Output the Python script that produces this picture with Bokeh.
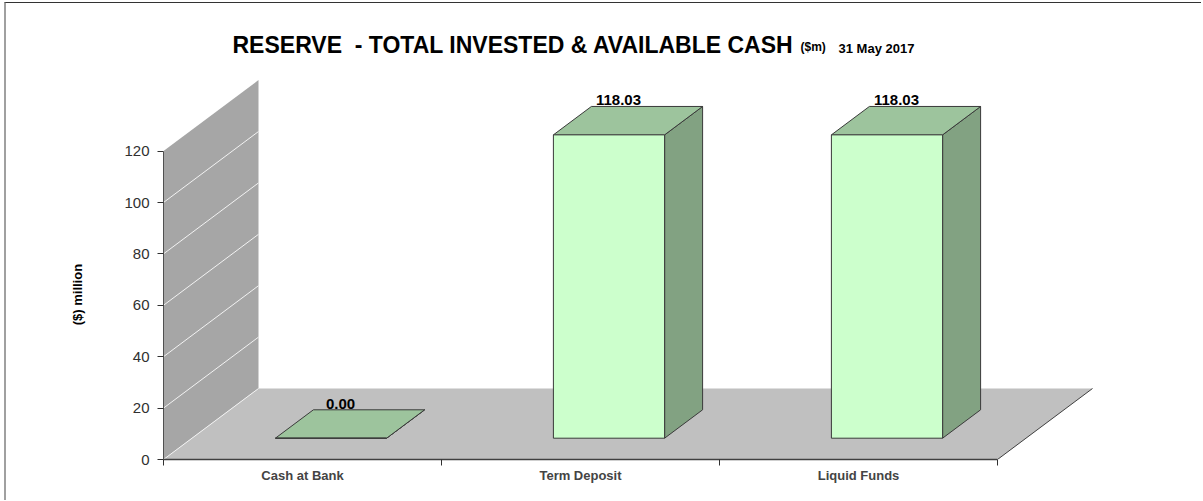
from bokeh.plotting import figure
from bokeh.models import Range1d, FixedTicker
from bokeh.core.properties import value
from bokeh.embed import file_html
from bokeh.resources import INLINE

# ---------------- data ----------------
categories = ["Cash at Bank", "Term Deposit", "Liquid Funds"]
amounts = [0.00, 118.03, 118.03]
amount_labels = ["0.00", "118.03", "118.03"]
y_ticks = [0, 20, 40, 60, 80, 100, 120]
title_main = "RESERVE \u00a0- TOTAL INVESTED & AVAILABLE CASH"
title_unit = "($m)"
title_date = "31 May 2017"
y_title = "($) million"

# ---------------- geometry ----------------
W, H = 1203, 501
OFF_X, OFF_Y = 6, 3            # css margin + border
FRAME_LEFT, FRAME_TOP, FRAME_BOTTOM = 163, 10, 459
PX_CAT = 278.0                 # pixels per category
PX_UNIT = 2.57                 # pixels per $m
DX = 95.0 / PX_CAT             # depth offset (x, in category units)
DY = 71.0 / PX_UNIT            # depth offset (y, in value units)
HALF_W = 0.2                   # half bar width
D0, D1 = 0.3, 0.7              # bar depth span
YMAX = 120
FONT = "Liberation Sans"

fig_w = W - OFF_X
fig_h = H - OFF_Y
mb_left = FRAME_LEFT - OFF_X
mb_top = FRAME_TOP - OFF_Y
mb_bottom = H - FRAME_BOTTOM
mb_right = 8
x_start = -0.5
x_end = x_start + (fig_w - mb_left - mb_right) / PX_CAT
y_end = (fig_h - mb_top - mb_bottom) / PX_UNIT


def proj(x, v, d):
    return x + d * DX, v + d * DY


def px_to_data(px, py):
    return x_start + (px - FRAME_LEFT) / PX_CAT, (FRAME_BOTTOM - py) / PX_UNIT


p = figure(width=fig_w, height=fig_h, output_backend="svg", toolbar_location=None,
           x_range=Range1d(x_start, x_end), y_range=Range1d(0, y_end),
           min_border_left=mb_left, min_border_right=mb_right,
           min_border_top=mb_top, min_border_bottom=mb_bottom,
           background_fill_color="white", border_fill_color="white",
           styles={"margin-left": "4px", "margin-top": "2px",
                   "border-top": "1px solid #333333",
                   "border-left": "2px solid #a0a0a0"})
p.grid.visible = False
p.outline_line_color = None

# ---------------- floor & wall ----------------
n = len(categories)
fl = [proj(x_start, 0, 0), proj(x_start + n, 0, 0), proj(x_start + n, 0, 1), proj(x_start, 0, 1)]
p.patch([a for a, b in fl], [b for a, b in fl], fill_color="#c0c0c0", line_color=None)
wl = [proj(x_start, 0, 0), proj(x_start, YMAX, 0), proj(x_start, YMAX, 1), proj(x_start, 0, 1)]
p.patch([a for a, b in wl], [b for a, b in wl], fill_color="#a6a6a6", line_color=None)

gx, gy = [], []
for t in y_ticks[:-1]:
    a = proj(x_start, t, 0)
    b = proj(x_start, t, 1)
    gx.append([a[0], b[0]])
    gy.append([a[1], b[1]])
p.multi_line(gx, gy, line_color="#f2f2f2", line_width=1)

re = [proj(x_start + n, 0, 0), proj(x_start + n, 0, 1)]
p.line([a for a, b in re], [b for a, b in re], line_color="#404040", line_width=1)

# ---------------- bars ----------------
side_xs, side_ys, top_xs, top_ys, front_xs, front_ys = [], [], [], [], [], []
for i, v in enumerate(amounts):
    l, r = i - HALF_W, i + HALF_W
    s = [proj(r, 0, D0), proj(r, v, D0), proj(r, v, D1), proj(r, 0, D1)]
    t = [proj(l, v, D0), proj(r, v, D0), proj(r, v, D1), proj(l, v, D1)]
    f = [proj(l, 0, D0), proj(r, 0, D0), proj(r, v, D0), proj(l, v, D0)]
    side_xs.append([a for a, b in s]); side_ys.append([b for a, b in s])
    top_xs.append([a for a, b in t]); top_ys.append([b for a, b in t])
    front_xs.append([a for a, b in f]); front_ys.append([b for a, b in f])

p.patches(side_xs, side_ys, fill_color="#82a282", line_color="#3a3a3a", line_width=1)
p.patches(top_xs, top_ys, fill_color="#9dc49d", line_color="#3a3a3a", line_width=1)
p.patches(front_xs, front_ys, fill_color="#ccffcc", line_color="#3a3a3a", line_width=1)

# value labels
lab_x = [i + 0.4 * DX for i in range(n)]
lab_y = [v + D1 * DY + 6 / PX_UNIT for v in amounts]
p.text(lab_x, lab_y, text=amount_labels, text_align="center", text_baseline="middle",
       text_font=value(FONT), text_font_style="bold", text_font_size="15px",
       text_color="black")

# ---------------- title ----------------
tx, ty = px_to_data(232, 44)
p.text([tx], [ty], text=[title_main], text_align="left", text_baseline="middle",
       text_font=value(FONT), text_font_style="bold", text_font_size="23px",
       text_color="black")
ux, uy = px_to_data(800, 46)
p.text([ux], [uy], text=[title_unit], text_align="left", text_baseline="middle",
       text_font=value(FONT), text_font_style="bold", text_font_size="12px",
       text_color="black")
dx_, dy_ = px_to_data(838, 48)
p.text([dx_], [dy_], text=[title_date], text_align="left", text_baseline="middle",
       text_font=value(FONT), text_font_style="bold", text_font_size="13px",
       text_color="black")

# ---------------- axes ----------------
ya = p.yaxis[0]
ya.ticker = FixedTicker(ticks=y_ticks)
ya.bounds = (0, YMAX)
ya.major_tick_out = 6
ya.major_tick_in = 0
ya.minor_tick_out = 0
ya.minor_tick_in = 0
ya.axis_line_color = "#505050"
ya.major_tick_line_color = "#303030"
ya.major_label_text_font = FONT
ya.major_label_text_font_size = "15px"
ya.major_label_text_color = "#303030"
ya.major_label_standoff = 8
# the axis title is centred on the whole frame; trailing no-break spaces move the
# visible words down to the middle of the 0-120 span as in the reference
ya.axis_label = y_title + "\u00a0" * 33
ya.axis_label_text_font = FONT
ya.axis_label_text_font_style = "bold"
ya.axis_label_text_font_size = "13px"
ya.axis_label_text_color = "black"
ya.axis_label_standoff = 36

xa = p.xaxis[0]
xa.ticker = FixedTicker(ticks=list(range(n)), minor_ticks=[x_start + k for k in range(n + 1)])
xa.bounds = (x_start, x_start + n)
xa.major_tick_out = 0
xa.major_tick_in = 0
xa.minor_tick_out = 6
xa.minor_tick_in = 0
xa.minor_tick_line_color = "#303030"
xa.axis_line_color = "#404040"
xa.axis_line_width = 1.5
xa.major_label_overrides = {i: c for i, c in enumerate(categories)}
xa.major_label_text_font = FONT
xa.major_label_text_font_style = "bold"
xa.major_label_text_font_size = "13px"
xa.major_label_standoff = 2

open("out.html", "w").write(file_html(p, INLINE))
